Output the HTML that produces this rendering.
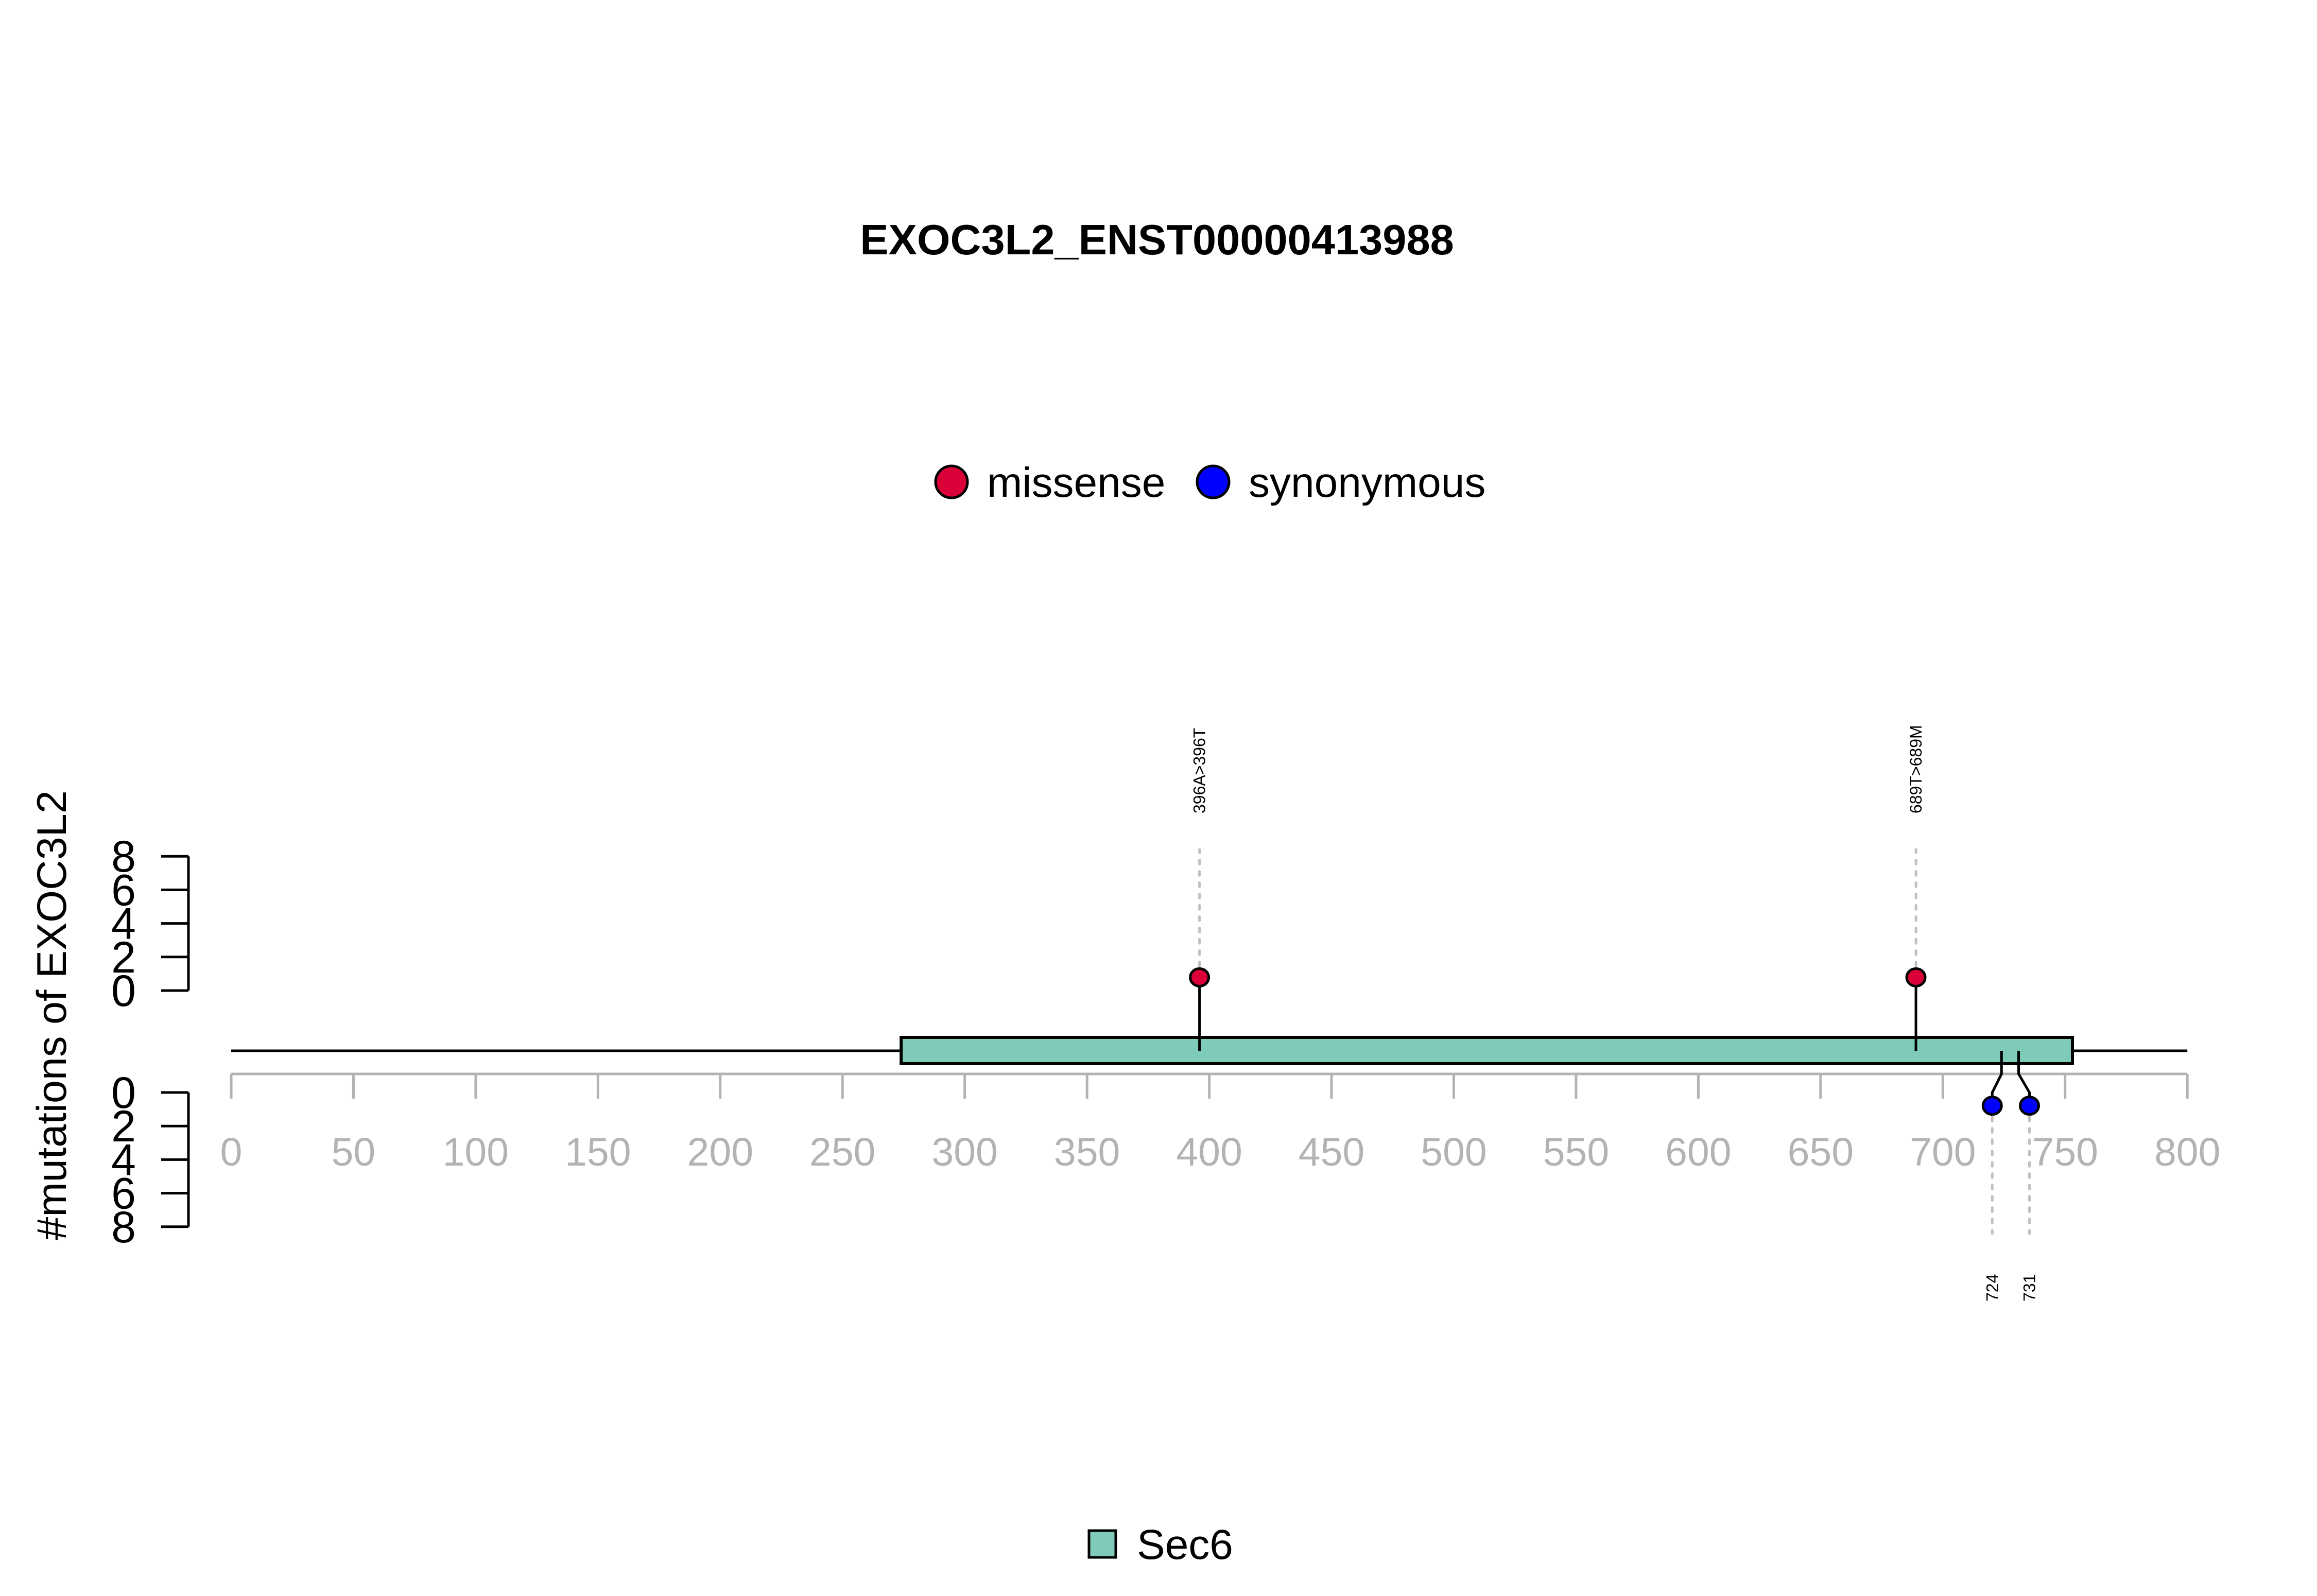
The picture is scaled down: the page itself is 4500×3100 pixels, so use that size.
<!DOCTYPE html>
<html><head><meta charset="utf-8"><style>
html,body{margin:0;padding:0;background:#fff;}
svg{display:block;font-family:"Liberation Sans",Arial,sans-serif;}
</style></head><body>
<svg id="chart" width="4500" height="3100" viewBox="0 0 4500 3100" xmlns="http://www.w3.org/2000/svg">
<rect width="4500" height="3100" fill="#fff"/>
<text x="2247" y="494" font-size="83" font-weight="bold" text-anchor="middle">EXOC3L2_ENST00000413988</text>
<g>
<circle cx="1848" cy="936" r="31" fill="#DC0038" stroke="#000" stroke-width="5"/>
<text x="1917" y="965" font-size="82">missense</text>
<circle cx="2356" cy="936" r="31" fill="#0000FF" stroke="#000" stroke-width="5"/>
<text x="2425" y="965" font-size="82">synonymous</text>
</g>
<text transform="translate(128,1972) rotate(-90)" font-size="81" text-anchor="middle">#mutations of EXOC3L2</text>
<g id="layer"></g>
<g>
<rect x="2115" y="2973" width="52" height="52" fill="#7FCBBA" stroke="#000" stroke-width="5"/>
<text x="2208" y="3028" font-size="82">Sec6</text>
</g>
</svg>
<script>
const xTicks = [0,50,100,150,200,250,300,350,400,450,500,550,600,650,700,750,800];
const yTicks = [0,2,4,6,8];
const domainNames = ["Sec6"];
const domainStart = [274];
const domainEnd = [753];
const mutPos = [396, 689, 724, 731];
const mutCount = [1, 1, 1, 1];
const mutType = ["missense", "missense", "synonymous", "synonymous"];
const mutLabel = ["396A>396T", "689T>689M", "724", "731"];
const mutSide = ["top", "top", "bottom", "bottom"];
const mutShift = [0, 0, -18, 21];

const NS = "http://www.w3.org/2000/svg";
const layer = document.getElementById("layer");
const X0 = 449, XPX = 4.749;
const x = v => X0 + v * XPX;
const yTop = c => 1924 - c * 32.6;
const yBot = c => 2122 + c * 32.6;
const BACK = 2041;
function mk(tag, attrs, parent) {
  const e = document.createElementNS(NS, tag);
  for (const k in attrs) e.setAttribute(k, attrs[k]);
  (parent || layer).appendChild(e);
  return e;
}
[["top", yTop], ["bottom", yBot]].forEach(([side, f]) => {
  const g = mk("g", {});
  
  
  mk("line", {x1: 366, x2: 366, y1: f(0), y2: f(8), stroke: "#000", "stroke-width": 5}, g);
  yTicks.forEach(t => {
    const l = mk("line", {x1: 313, x2: 366, y1: f(t), y2: f(t), stroke: "#000", "stroke-width": 5}, g);
    
    
    const tx = mk("text", {x: 264, y: f(t) + 30, "font-size": 86, "text-anchor": "end"}, g);
    tx.textContent = t;
    
    
  });
});
const xa = mk("g", {});


mk("line", {x1: x(0), x2: x(800), y1: 2086, y2: 2086, stroke: "#b3b3b3", "stroke-width": 5}, xa);
xTicks.forEach(t => {
  const l = mk("line", {x1: x(t), x2: x(t), y1: 2086, y2: 2134, stroke: "#b3b3b3", "stroke-width": 5}, xa);
  
  
  const tx = mk("text", {x: x(t), y: 2264, "font-size": 77, fill: "#b3b3b3", "text-anchor": "middle"}, xa);
  tx.textContent = t;
  
  
});
const bb = mk("line", {x1: x(0), x2: x(800), y1: BACK, y2: BACK, stroke: "#000", "stroke-width": 5});


domainNames.forEach((n, i) => {
  const r = mk("rect", {x: x(domainStart[i]), y: 2015, width: x(domainEnd[i]) - x(domainStart[i]), height: 51, fill: "#7FCBBA", stroke: "#000", "stroke-width": 6});
  
  
});
mutPos.forEach((p, i) => {
  const g = mk("g", {});
  
  
  const fill = mutType[i] === "missense" ? "#DC0038" : "#0000FF";
  const px = x(p);
  if (mutSide[i] === "top") {
    const cy = yTop(mutCount[i]) + 7;
    mk("line", {x1: px, x2: px, y1: cy, y2: 1650, stroke: "#c0c0c0", "stroke-width": 5, "stroke-dasharray": "8,14", "stroke-linecap": "round"}, g);
    mk("line", {x1: px, x2: px, y1: BACK, y2: cy, stroke: "#000", "stroke-width": 5}, g);
    mk("ellipse", {cx: px, cy: cy, rx: 18, ry: 17, fill: fill, stroke: "#000", "stroke-width": 5}, g);
    const t = mk("text", {transform: `translate(${px + 11},1580) rotate(-90)`, "font-size": 32}, g);
    t.textContent = mutLabel[i];
  } else {
    const cx = px + mutShift[i];
    const cy = yBot(mutCount[i]) - 7;
    mk("line", {x1: cx, x2: cx, y1: cy, y2: 2396, stroke: "#c0c0c0", "stroke-width": 5, "stroke-dasharray": "8,14", "stroke-linecap": "round"}, g);
    mk("polyline", {points: `${px},${BACK} ${px},2086 ${cx},2122 ${cx},${cy}`, fill: "none", stroke: "#000", "stroke-width": 5}, g);
    mk("ellipse", {cx: cx, cy: cy, rx: 18, ry: 17, fill: fill, stroke: "#000", "stroke-width": 5}, g);
    const t = mk("text", {transform: `translate(${cx + 11},2528) rotate(-90)`, "font-size": 32}, g);
    t.textContent = mutLabel[i];
  }
});
</script>
</body></html>
